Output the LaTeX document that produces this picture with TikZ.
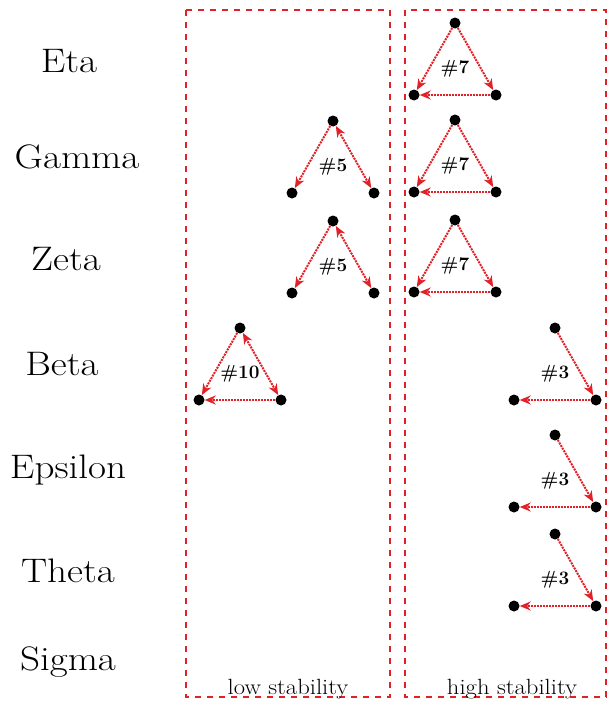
\documentclass[tikz,border=0pt]{standalone}
\usepackage{fontspec}
\usetikzlibrary{arrows.meta}
\definecolor{stabred}{RGB}{226,32,40}

% three dots of one motif, with its number in the middle
\def\motif#1(#2,#3)#4{%
	\begin{scope}[shift={(#2,#3)}]
		\node[dot] (#1t) at (0, 0) {};
		\node[dot] (#1l) at (-41, 72) {};
		\node[dot] (#1r) at (41, 72) {};
		\node[hash] (#1n) at (0, 46) {#4};
	\end{scope}}

\tikzset{
	dot/.style={circle, fill=black, inner sep=0pt, minimum size=11pt},
	hash/.style={font=\bfseries\fontsize{19}{22}\selectfont},
	rowlab/.style={anchor=base, xscale=1.15, font=\fontsize{34}{40}\selectfont},
	boxlab/.style={anchor=base, xscale=1.12, font=\fontsize{22}{26}\selectfont},
	box/.style={draw=stabred, line width=1.8pt, dash pattern=on 6pt off 6pt},
	link/.style={draw=stabred, line width=2pt, densely dotted, -{Stealth[length=11pt, width=9pt]}},
	twoway/.style={link, {Stealth[length=11pt, width=9pt]}-{Stealth[length=11pt, width=9pt]}}
}

\begin{document}
\begin{tikzpicture}[x=1pt, y=-1pt]
	%%%%% START %%%%%
	\useasboundingbox (0, 0) rectangle (609, 704);
	
	\node[rowlab] (eta) at (69, 72) {Eta};
	\node[rowlab] (gamma) at (77, 168) {Gamma};
	\node[rowlab] (zeta) at (66, 270) {Zeta};
	\node[rowlab] (beta) at (62, 375) {Beta};
	\node[rowlab] (epsilon) at (68, 478) {Epsilon};
	\node[rowlab] (theta) at (68, 582) {Theta};
	\node[rowlab] (sigma) at (68, 670) {Sigma};
	
	\draw[box] (186, 10) rectangle (390, 697);
	\draw[box] (405, 10) rectangle (606, 697);
	\node[boxlab] (low) at (288, 694) {low stability};
	\node[boxlab] (high) at (512, 694) {high stability};
	
	% low stability
	\motif{ga}(333, 121){\#5}
	\motif{ze}(333, 221){\#5}
	\motif{be}(240, 328){\#10}
	
	\draw[link] (gat) -- (gal);
	\draw[twoway] (gat) -- (gar);
	\draw[link] (zet) -- (zel);
	\draw[twoway] (zet) -- (zer);
	\draw[link] (bet) -- (bel);
	\draw[twoway] (bet) -- (ber);
	\draw[link] (ber) -- (bel);
	
	% high stability
	\motif{hx}(455, 23){\#7}
	\motif{hy}(455, 120){\#7}
	\motif{hz}(455, 220){\#7}
	
	\foreach \m in {hx, hy, hz} {
		\draw[link] (\m t) -- (\m l);
		\draw[link] (\m t) -- (\m r);
		\draw[link] (\m r) -- (\m l);
	}
	
	\motif{hb}(555, 328){\#3}
	\motif{he}(555, 435){\#3}
	\motif{hh}(555, 534){\#3}
	
	\foreach \m in {hb, he, hh} {
		\draw[link] (\m t) -- (\m r);
		\draw[link] (\m r) -- (\m l);
	}
	
	%%%%% END %%%%%
\end{tikzpicture}
\end{document}
